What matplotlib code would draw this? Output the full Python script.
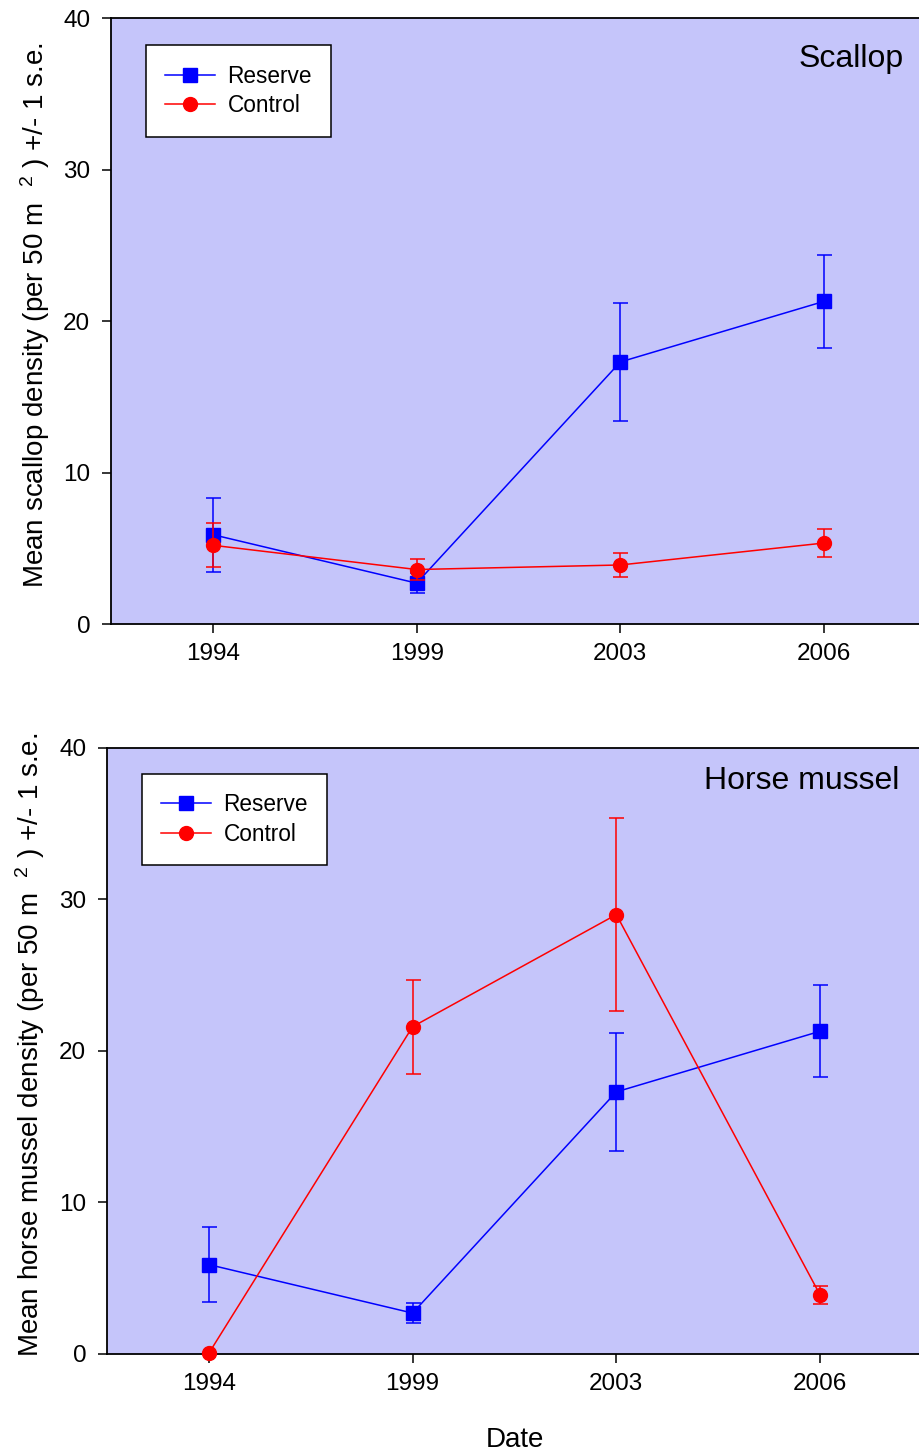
import numpy as np
import matplotlib
matplotlib.use('Agg')
import matplotlib.pyplot as plt
from matplotlib.lines import Line2D

plt.rcParams['font.family'] = ['Liberation Sans', 'DejaVu Sans']
plt.rcParams['mathtext.fontset'] = 'custom'
plt.rcParams['mathtext.rm'] = 'Liberation Sans'
plt.rcParams['mathtext.default'] = 'regular'

BLUE = '#0000FF'
RED = '#FF0000'
PANEL_BG = '#C5C5FA'

years = ['1994', '1999', '2003', '2006']

# scallop density, mean and s.e.
scallop_reserve = [5.9, 2.7, 17.3, 21.3]
scallop_reserve_se = [2.45, 0.65, 3.9, 3.05]
scallop_control = [5.2, 3.6, 3.9, 5.35]
scallop_control_se = [1.45, 0.7, 0.8, 0.9]

# horse mussel density, mean and s.e.
mussel_reserve = [5.9, 2.7, 17.3, 21.3]
mussel_reserve_se = [2.45, 0.65, 3.9, 3.05]
mussel_control = [0.05, 21.6, 29.0, 3.9]
mussel_control_se = [0.0, 3.1, 6.35, 0.6]


def draw_panel(ax, reserve, reserve_se, control, control_se, name, ylabel, legend_x, legend_y, name_y):
    idx = np.arange(len(years))
    ax.set_facecolor(PANEL_BG)
    ax.errorbar(idx, reserve, yerr=reserve_se, color=BLUE, marker='s', markersize=9.5,
                linewidth=1.1, elinewidth=1.1, capsize=5.4, capthick=1.1,
                clip_on=False, zorder=3)
    ax.errorbar(idx, control, yerr=control_se, color=RED, marker='o', markersize=10,
                linewidth=1.1, elinewidth=1.1, capsize=5.4, capthick=1.1,
                clip_on=False, zorder=4)
    ax.set_xlim(-0.5, 3.5)
    ax.set_ylim(0, 40)
    ax.set_xticks(idx)
    ax.set_xticklabels(years)
    ax.set_yticks(np.arange(0, 41, 10))
    ax.tick_params(direction='out', length=6.5, width=1.1, labelsize=17.5, pad=7)
    ax.tick_params(axis='y', pad=8.5)
    ax.spines['right'].set_visible(False)
    for s in ['left', 'top', 'bottom']:
        ax.spines[s].set_linewidth(1.3)
    ax.set_ylabel(ylabel, fontsize=20)
    ax.yaxis.set_label_coords(-0.073, 0.51)
    ax.text(0.972, name_y, name, transform=ax.transAxes, ha='right', va='center', fontsize=23)

    handles = [Line2D([], [], color=BLUE, marker='s', markersize=9.5, linewidth=1.1, label='Reserve'),
               Line2D([], [], color=RED, marker='o', markersize=10, linewidth=1.1, label='Control')]
    leg = ax.legend(handles=handles, loc='upper left', bbox_to_anchor=(legend_x, legend_y),
                    fontsize=16.3, numpoints=1, handlelength=2.2, handletextpad=0.55,
                    borderpad=0.85, labelspacing=0.3, fancybox=False, framealpha=1,
                    edgecolor='black', borderaxespad=0)
    leg.get_frame().set_linewidth(1.1)


fig = plt.figure(figsize=(9.19, 14.52), dpi=100)
ax1 = fig.add_axes([0.1208, 0.5702, 0.8868, 0.4174])
ax2 = fig.add_axes([0.1164, 0.0675, 0.8868, 0.4174])

draw_panel(ax1, scallop_reserve, scallop_reserve_se, scallop_control, scallop_control_se,
           'Scallop', 'Mean scallop density (per 50 m  $^{2}$ ) +/- 1 s.e.', 0.043, 0.955, 0.932)
draw_panel(ax2, mussel_reserve, mussel_reserve_se, mussel_control, mussel_control_se,
           'Horse mussel', 'Mean horse mussel density (per 50 m  $^{2}$ ) +/- 1 s.e.', 0.043, 0.957, 0.945)
ax2.set_xlabel('Date', fontsize=20, labelpad=23)

fig.savefig('out.png', dpi=100)
